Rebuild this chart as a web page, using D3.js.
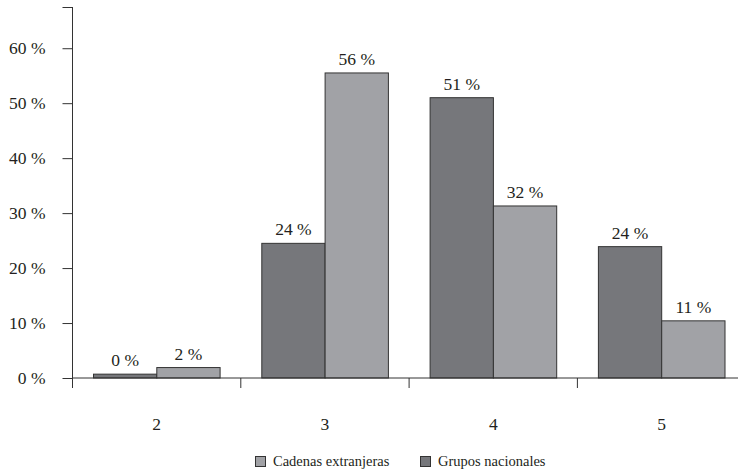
<!DOCTYPE html>
<html>
<head>
<meta charset="utf-8">
<script src="https://cdn.jsdelivr.net/npm/d3@7"></script>
<style>
  html, body { margin: 0; padding: 0; background: #fff; }
  svg { display: block; }
</style>
</head>
<body>
<svg id="chart" width="738" height="471"></svg>
<script>
const categories = ["2", "3", "4", "5"];
const seriesNames = ["Grupos nacionales", "Cadenas extranjeras"];
const grupos = [0.7, 24.5, 51.0, 23.9];
const cadenas = [1.9, 55.5, 31.3, 10.4];
const labelsGrupos = ["0 %", "24 %", "51 %", "24 %"];
const labelsCadenas = ["2 %", "56 %", "32 %", "11 %"];
const yTicks = [0, 10, 20, 30, 40, 50, 60, 67.5];
const legendOrder = ["Cadenas extranjeras", "Grupos nacionales"];

const FONT = "'Liberation Serif', 'Times New Roman', Times, 'DejaVu Serif', serif";
const colors = { "Grupos nacionales": "#76777b", "Cadenas extranjeras": "#a1a2a6" };
const stroke = "#333";
const textColor = "#231f20";

const svg = d3.select("#chart");
const x0 = 72.5, y0 = 378;

const y = d3.scaleLinear().domain([0, 67.5]).range([y0, 7]);
const x = d3.scaleBand().domain(categories).range([x0, x0 + 4 * 168.3]).padding(0);
const xs = d3.scaleBand().domain(seriesNames).range([21, 147.6]).padding(0);

const data = categories.map((c, i) => ({
  cat: c,
  vals: [
    { s: "Grupos nacionales", v: grupos[i], label: labelsGrupos[i] },
    { s: "Cadenas extranjeras", v: cadenas[i], label: labelsCadenas[i] }
  ]
}));

// bars
const g = svg.append("g");
const groups = g.selectAll("g.grp").data(data).join("g")
  .attr("transform", d => `translate(${x(d.cat)},0)`);
groups.selectAll("rect").data(d => d.vals).join("rect")
  .attr("x", d => xs(d.s))
  .attr("width", xs.bandwidth())
  .attr("y", d => y(d.v))
  .attr("height", d => y0 - y(d.v))
  .attr("fill", d => colors[d.s])
  .attr("stroke", stroke)
  .attr("stroke-width", 1);
groups.selectAll("text").data(d => d.vals).join("text")
  .attr("x", d => xs(d.s) + xs.bandwidth() / 2)
  .attr("y", d => y(d.v) - 8)
  .attr("text-anchor", "middle")
  .attr("font-family", FONT)
  .attr("font-size", 17.5)
  .attr("fill", textColor)
  .text(d => d.label);

// y axis
const yAxis = d3.axisLeft(y).tickValues(yTicks).tickSize(10).tickPadding(17)
  .tickFormat(v => v === 67.5 ? "" : v + " %");
const ya = svg.append("g").attr("transform", `translate(${x0},0)`).call(yAxis);
ya.attr("font-family", FONT).attr("font-size", 17.5);
ya.select(".domain").attr("d", `M0,${y(67.5)}V${y0 + 10}`).attr("stroke", stroke);
ya.selectAll(".tick line").attr("stroke", stroke);
ya.selectAll(".tick text").attr("fill", textColor);

// x axis
const xa = svg.append("g");
xa.append("line").attr("x1", x0).attr("x2", 738).attr("y1", y0).attr("y2", y0)
  .attr("stroke", stroke).attr("stroke-width", 1);
xa.selectAll("line.bnd").data(categories.slice(1)).join("line")
  .attr("class", "bnd")
  .attr("x1", d => x(d)).attr("x2", d => x(d))
  .attr("y1", y0).attr("y2", y0 + 10)
  .attr("stroke", stroke);
xa.selectAll("text").data(categories).join("text")
  .attr("x", d => x(d) + x.bandwidth() / 2)
  .attr("y", 430)
  .attr("text-anchor", "middle")
  .attr("font-family", FONT)
  .attr("font-size", 17.5)
  .attr("fill", textColor)
  .text(d => d);

// legend
const legendX = [255, 420];
const lg = svg.append("g");
legendOrder.forEach((s, i) => {
  lg.append("rect").attr("x", legendX[i] + 0.5).attr("y", 456.5)
    .attr("width", 10).attr("height", 10)
    .attr("fill", colors[s]).attr("stroke", stroke);
  lg.append("text").attr("x", legendX[i] + 18).attr("y", 466)
    .attr("font-family", FONT)
    .attr("font-size", 14.5)
    .attr("fill", textColor)
    .text(s);
});
</script>
</body>
</html>
